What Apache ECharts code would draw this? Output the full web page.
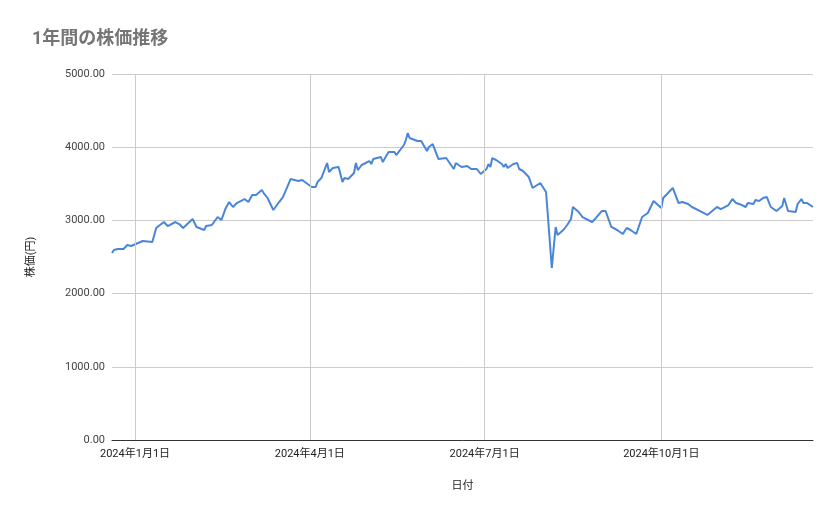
<!DOCTYPE html>
<html>
<head>
<meta charset="utf-8">
<script src="https://cdn.jsdelivr.net/npm/echarts@6/dist/echarts.min.js"></script>
<style>html,body{margin:0;padding:0;background:#fff}#chart{width:839px;height:519px}</style>
</head>
<body>
<div id="chart"></div>
<script>
// values
var dates = [
  '2023-12-20','2023-12-21','2023-12-22','2023-12-23','2023-12-26','2023-12-28','2023-12-30',
  '2024-01-05','2024-01-10','2024-01-12','2024-01-16','2024-01-18','2024-01-22','2024-01-24','2024-01-26','2024-01-31',
  '2024-02-02','2024-02-06','2024-02-07','2024-02-10','2024-02-13','2024-02-15','2024-02-17','2024-02-19','2024-02-21','2024-02-23','2024-02-27','2024-02-29',
  '2024-03-02','2024-03-04','2024-03-07','2024-03-08','2024-03-10','2024-03-13','2024-03-14','2024-03-16','2024-03-18','2024-03-22','2024-03-26','2024-03-27','2024-03-28',
  '2024-04-02','2024-04-04','2024-04-05','2024-04-07','2024-04-10','2024-04-11','2024-04-13','2024-04-16','2024-04-18','2024-04-19','2024-04-21','2024-04-24','2024-04-25','2024-04-26','2024-04-28',
  '2024-05-02','2024-05-03','2024-05-04','2024-05-08','2024-05-09','2024-05-12','2024-05-15','2024-05-16','2024-05-17','2024-05-20','2024-05-21','2024-05-22','2024-05-23','2024-05-27','2024-05-29','2024-05-30',
  '2024-06-01','2024-06-02','2024-06-04','2024-06-07','2024-06-08','2024-06-11','2024-06-12','2024-06-15','2024-06-16','2024-06-19','2024-06-20','2024-06-22','2024-06-24','2024-06-27','2024-06-28','2024-06-29',
  '2024-07-02','2024-07-03','2024-07-04','2024-07-05','2024-07-07','2024-07-10','2024-07-11','2024-07-12','2024-07-13','2024-07-16','2024-07-18','2024-07-19','2024-07-21','2024-07-24','2024-07-26','2024-07-27','2024-07-30','2024-07-31',
  '2024-08-02','2024-08-03','2024-08-05','2024-08-07','2024-08-08','2024-08-11','2024-08-13','2024-08-15','2024-08-16','2024-08-19','2024-08-21','2024-08-22','2024-08-26','2024-08-28','2024-08-29','2024-08-31',
  '2024-09-02','2024-09-03','2024-09-05','2024-09-08','2024-09-11','2024-09-13','2024-09-15','2024-09-18','2024-09-21','2024-09-24','2024-09-27',
  '2024-10-01','2024-10-02','2024-10-07','2024-10-08','2024-10-10','2024-10-12','2024-10-15','2024-10-17','2024-10-22','2024-10-25','2024-10-30',
  '2024-11-01','2024-11-05','2024-11-07','2024-11-09','2024-11-12','2024-11-14','2024-11-15','2024-11-18','2024-11-19','2024-11-21','2024-11-23','2024-11-25','2024-11-27','2024-11-28','2024-11-30',
  '2024-12-03','2024-12-04','2024-12-06','2024-12-10','2024-12-11','2024-12-13','2024-12-14','2024-12-16','2024-12-19'
];
var prices = [
  2554,2595,2568,2609,2609,2664,2650,
  2718,2705,2896,2978,2923,2978,2950,2896,3019,
  2910,2869,2923,2937,3046,3005,3155,3251,3183,3237,3292,3251,
  3347,3347,3415,3374,3306,3142,3128,3251,3319,3565,3538,3524,3552,
  3456,3456,3524,3579,3784,3661,3716,3729,3524,3579,3565,3647,3784,3688,3757,
  3811,3770,3838,3866,3797,3934,3934,3893,3920,4030,4098,4194,4125,4084,4084,4057,
  3948,4002,4043,3838,3811,3852,3825,3702,3784,3729,3702,3743,3702,3702,3729,3634,
  3702,3770,3729,3852,3825,3770,3729,3770,3716,3770,3784,3702,3675,3593,3443,3429,3511,3538,
  3388,3046,2350,2910,2800,2869,2937,3019,3183,3115,3046,3033,2978,3033,3019,3128,
  3128,3101,2910,2869,2814,2896,2869,2814,3046,3101,3265,
  3169,3306,3443,3443,3237,3251,3224,3183,3115,3074,3183,
  3155,3210,3292,3237,3210,3183,3237,3224,3278,3265,3306,3319,3183,3169,3128,
  3196,3306,3128,3115,3224,3292,3237,3237,3183
];
var xTicks = ['2024-01-01','2024-04-01','2024-07-01','2024-10-01'];

function ts(d) { return +new Date(d + 'T00:00:00'); }
var tickTimes = xTicks.map(ts);
var seriesData = dates.map(function (d, i) { return [ts(d), prices[i]]; });

var chart = echarts.init(document.getElementById('chart'));
chart.setOption({
  textStyle: { fontFamily: 'Roboto, "Noto Sans CJK JP", sans-serif' },
  title: {
    text: '1年間の株価推移',
    left: 27, top: 26,
    textStyle: { color: '#757575', fontSize: 18, fontWeight: 'bold', fontFamily: 'Roboto, "Noto Sans CJK JP", sans-serif' }
  },
  grid: { left: 112, right: 26, top: 74, bottom: 79 },
  xAxis: {
    type: 'value',
    min: ts('2023-12-20'),
    max: ts('2024-12-19'),
    name: '日付', nameLocation: 'middle', nameGap: 41,
    nameTextStyle: { color: '#222', fontSize: 11 },
    axisLine: { lineStyle: { color: '#333', width: 1 } },
    axisTick: { show: false },
    axisLabel: {
      customValues: tickTimes, color: '#222', fontSize: 11, margin: 9,
      formatter: function (v) {
        var d = new Date(v);
        return d.getFullYear() + '年' + (d.getMonth() + 1) + '月' + d.getDate() + '日';
      }
    },
    splitLine: { show: false }
  },
  yAxis: {
    type: 'value', min: 0, max: 5000, interval: 1000,
    name: '株価(円)', nameLocation: 'middle', nameGap: 75, nameRotate: 90,
    nameTextStyle: { color: '#222', fontSize: 11 },
    axisLine: { show: false }, axisTick: { show: false },
    axisLabel: {
      color: '#444', fontSize: 11, margin: 7,
      formatter: function (v) { return v.toFixed(2); }
    },
    splitLine: { lineStyle: { color: '#cccccc' } }
  },
  series: [{
    type: 'line', data: seriesData, showSymbol: false,
    lineStyle: { color: '#4a86d8', width: 2 }, itemStyle: { color: '#4a86d8' },
    z: 3,
    markLine: {
      silent: true, symbol: 'none', label: { show: false }, animation: false,
      lineStyle: { color: '#cccccc', type: 'solid', width: 1 },
      data: tickTimes.map(function (t) { return { xAxis: t }; })
    }
  }]
});
</script>
</body>
</html>
